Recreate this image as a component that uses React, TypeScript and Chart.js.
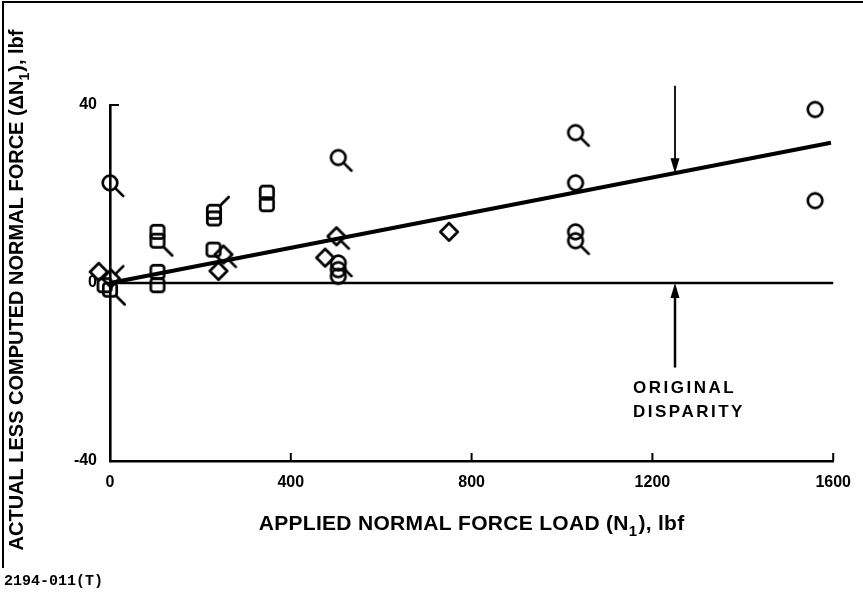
import React, { useEffect, useRef } from "react";
import { Chart, registerables } from "chart.js";

Chart.register(...registerables);

// ---- axes ----
const xTicks = [0, 400, 800, 1200, 1600];
const yTicks = [-40, 0, 40];
const xTitle = [{ t: "APPLIED NORMAL FORCE LOAD (N" }, { t: "1", sub: true }, { t: "), lbf" }];
const yTitle = [{ t: "ACTUAL LESS COMPUTED NORMAL FORCE (\u0394N" }, { t: "1", sub: true }, { t: "), lbf" }];
const noteLines = ["ORIGINAL", "DISPARITY"];
const figureId = "2194-011(T)";

// ---- data (applied load lbf, delta normal force lbf) ----
const circles = [
  { x: 1030, y: 22.5 }, { x: 1030, y: 11.5 }, { x: 1560, y: 39 }, { x: 1560, y: 18.5 },
  { x: 505, y: 3 }, { x: 505, y: 1.5 },
];
const circlesFlagDown = [
  { x: 0, y: 22.5 }, { x: 505, y: 28.2 }, { x: 1030, y: 33.8 }, { x: 1030, y: 9.5 }, { x: 505, y: 4.5 },
];
const squares = [
  { x: 105, y: 11.5 }, { x: 105, y: 2.5 }, { x: 105, y: -0.5 }, { x: 230, y: 14.5 },
  { x: 229, y: 7.5 }, { x: 347, y: 20.3 }, { x: 347, y: 17.7 }, { x: -12, y: -0.5 },
];
const squaresFlagDown = [{ x: 105, y: 9.5 }, { x: 0, y: -1.5 }];
const squaresFlagUp = [{ x: 230, y: 16 }];
const diamonds = [{ x: -25, y: 2.5 }, { x: 240, y: 2.7 }, { x: 476, y: 5.7 }, { x: 750, y: 11.5 }];
const diamondsFlagDown = [{ x: 251, y: 6.4 }, { x: 501, y: 10.5 }];
const diamondsFlagUp = [{ x: 2, y: 1 }];
const fitLine = [{ x: 0, y: 0 }, { x: 1595, y: 31.5 }];
const originalLine = [{ x: 0, y: 0 }, { x: 1600, y: 0 }];

// annotation arrows (data coords)
const arrowX = 1250;
const arrowTopStart = 44.3;
const arrowBottomStart = -19;
const arrowBottomEnd = 0;

const FONT = "'Liberation Sans', Arial, Helvetica, sans-serif";

type Shape = "circle" | "square" | "diamond";
type Flag = "none" | "down" | "up";

function makeSymbol(shape: Shape, flag: Flag): HTMLCanvasElement {
  const S = 44;
  const c = S / 2;
  const cv = document.createElement("canvas");
  cv.width = S;
  cv.height = S;
  const g = cv.getContext("2d")!;
  g.strokeStyle = "#000";
  g.lineWidth = 2.7;
  g.lineJoin = "round";
  g.lineCap = "round";
  g.beginPath();
  let ex = 0;
  let ey = 0;
  if (shape === "circle") {
    const r = 7.3;
    g.arc(c, c, r, 0, Math.PI * 2);
    ex = r * Math.SQRT1_2;
    ey = ex;
  } else if (shape === "square") {
    const h = 6.7;
    (g as any).roundRect(c - h, c - h, 2 * h, 2 * h, 3);
    ex = h;
    ey = h;
  } else {
    const h = 8.7;
    g.moveTo(c, c - h);
    g.lineTo(c + h, c);
    g.lineTo(c, c + h);
    g.lineTo(c - h, c);
    g.closePath();
    ex = h / 2;
    ey = h / 2;
  }
  g.stroke();
  if (flag !== "none") {
    const s = flag === "down" ? 1 : -1;
    g.beginPath();
    g.moveTo(c + ex, c + s * ey);
    g.lineTo(c + ex + 8, c + s * (ey + 8));
    g.stroke();
  }
  return cv;
}

function drawRich(ctx: CanvasRenderingContext2D, parts: { t: string; sub?: boolean }[], size: number, cx: number, baseline: number, spacing: number) {
  const main = `bold ${size}px ${FONT}`;
  const small = `bold ${Math.round(size * 0.7)}px ${FONT}`;
  (ctx as any).letterSpacing = `${spacing}px`;
  let total = 0;
  const widths = parts.map((p) => {
    ctx.font = p.sub ? small : main;
    const w = ctx.measureText(p.t).width + (p.sub ? 1 : 0);
    total += w;
    return w;
  });
  let x = cx - total / 2;
  ctx.textAlign = "left";
  ctx.textBaseline = "alphabetic";
  parts.forEach((p, i) => {
    ctx.font = p.sub ? small : main;
    ctx.fillText(p.t, x, baseline + (p.sub ? size * 0.3 : 0));
    x += widths[i];
  });
  (ctx as any).letterSpacing = "0px";
}

const decorPlugin = {
  id: "decor",
  afterDraw(chart: any) {
    const { ctx, chartArea, scales } = chart;
    const xs = scales.x;
    const ys = scales.y;
    ctx.save();
    ctx.strokeStyle = "#000";
    ctx.fillStyle = "#000";
    ctx.lineCap = "butt";
    // inner tick marks
    ctx.lineWidth = 2;
    xTicks.slice(1).forEach((v) => {
      const px = xs.getPixelForValue(v);
      ctx.beginPath();
      ctx.moveTo(px, chartArea.bottom);
      ctx.lineTo(px, chartArea.bottom - 8);
      ctx.stroke();
    });
    yTicks.forEach((v) => {
      const py = ys.getPixelForValue(v);
      ctx.beginPath();
      ctx.moveTo(chartArea.left, py);
      ctx.lineTo(chartArea.left + 9, py);
      ctx.stroke();
    });

    // arrows
    const ax = xs.getPixelForValue(arrowX);
    const a = fitLine[0];
    const b = fitLine[1];
    const fitAt = a.y + ((b.y - a.y) * (arrowX - a.x)) / (b.x - a.x);
    const tipTop = ys.getPixelForValue(fitAt);
    const startTop = ys.getPixelForValue(arrowTopStart);
    ctx.lineWidth = 1.8;
    ctx.beginPath();
    ctx.moveTo(ax, startTop);
    ctx.lineTo(ax, tipTop - 10);
    ctx.stroke();
    ctx.beginPath();
    ctx.moveTo(ax, tipTop);
    ctx.lineTo(ax - 4.5, tipTop - 15);
    ctx.lineTo(ax + 4.5, tipTop - 15);
    ctx.closePath();
    ctx.fill();

    const tipBot = ys.getPixelForValue(arrowBottomEnd);
    const startBot = ys.getPixelForValue(arrowBottomStart);
    ctx.lineWidth = 2.5;
    ctx.beginPath();
    ctx.moveTo(ax, startBot);
    ctx.lineTo(ax, tipBot + 10);
    ctx.stroke();
    ctx.beginPath();
    ctx.moveTo(ax, tipBot);
    ctx.lineTo(ax - 4.5, tipBot + 15);
    ctx.lineTo(ax + 4.5, tipBot + 15);
    ctx.closePath();
    ctx.fill();

    // note text
    ctx.font = `bold 17px ${FONT}`;
    (ctx as any).letterSpacing = "2.5px";
    ctx.textAlign = "left";
    ctx.textBaseline = "alphabetic";
    ctx.fillText(noteLines[0], ax - 42, tipBot + 110);
    ctx.fillText(noteLines[1], ax - 42, tipBot + 134);
    (ctx as any).letterSpacing = "0px";

    // axis titles
    const cx = (chartArea.left + chartArea.right) / 2;
    drawRich(ctx, xTitle, 21, cx, chartArea.bottom + 69, 0.3);
    ctx.save();
    ctx.translate(23, 290);
    ctx.rotate(-Math.PI / 2);
    drawRich(ctx, yTitle, 20, 0, 0, 0);
    ctx.restore();

    // figure id
    ctx.font = `bold 15px 'Liberation Mono', 'DejaVu Sans Mono', monospace`;
    ctx.textAlign = "left";
    ctx.fillText(figureId, 4, 585);
    ctx.restore();
  },
};

export default function App() {
  const ref = useRef<HTMLCanvasElement | null>(null);

  useEffect(() => {
    const canvas = ref.current;
    if (!canvas) return;
    const pt = (data: any[], shape: Shape, flag: Flag) => ({
      type: "scatter" as const,
      data,
      pointStyle: makeSymbol(shape, flag),
      pointRadius: 14,
      pointHoverRadius: 14,
      borderWidth: 0,
      clip: false as any,
    });
    const line = (data: any[], width: number) => ({
      type: "line" as const,
      data,
      borderColor: "#000",
      borderWidth: width,
      pointRadius: 0,
      fill: false,
      tension: 0,
      clip: false as any,
      borderCapStyle: "butt" as const,
    });
    const chart = new Chart(canvas, {
      type: "scatter",
      data: {
        datasets: [
          line(originalLine, 2.6) as any,
          line(fitLine, 4) as any,
          pt(circles, "circle", "none"),
          pt(circlesFlagDown, "circle", "down"),
          pt(squares, "square", "none"),
          pt(squaresFlagDown, "square", "down"),
          pt(squaresFlagUp, "square", "up"),
          pt(diamonds, "diamond", "none"),
          pt(diamondsFlagDown, "diamond", "down"),
          pt(diamondsFlagUp, "diamond", "up"),
        ],
      },
      options: {
        responsive: false,
        animation: false,
        devicePixelRatio: 1,
        events: [],
        layout: { padding: { top: 105, right: 29, bottom: 0, left: 0 } },
        plugins: { legend: { display: false }, tooltip: { enabled: false } },
        scales: {
          x: {
            type: "linear",
            min: 0,
            max: 1600,
            afterBuildTicks: (s: any) => {
              s.ticks = xTicks.map((v) => ({ value: v }));
            },
            afterFit: (s: any) => {
              s.height = 132;
            },
            grid: { display: false, drawTicks: false },
            border: { display: true, color: "#000", width: 2.6 },
            ticks: {
              color: "#000",
              font: { family: FONT, size: 16, weight: "bold" },
              padding: 12,
              maxRotation: 0,
              autoSkip: false,
              callback: (v: any) => String(v),
            },
          },
          y: {
            type: "linear",
            min: -40,
            max: 40,
            afterBuildTicks: (s: any) => {
              s.ticks = yTicks.map((v) => ({ value: v }));
            },
            afterFit: (s: any) => {
              s.width = 110;
            },
            grid: { display: false, drawTicks: false },
            border: { display: true, color: "#000", width: 2.6 },
            ticks: {
              color: "#000",
              font: { family: FONT, size: 16, weight: "bold" },
              padding: 13,
              autoSkip: false,
              callback: (v: any) => String(v),
            },
          },
        },
      },
      plugins: [decorPlugin],
    });
    return () => chart.destroy();
  }, []);

  return (
    <div style={{ position: "absolute", left: 0, top: 0, width: 863, height: 593, background: "#fff" }}>
      <canvas ref={ref} width={863} height={593} style={{ display: "block" }} />
      <div style={{ position: "absolute", left: 2, top: 1, width: 861, height: 2, background: "#000" }} />
      <div style={{ position: "absolute", left: 2, top: 1, width: 2, height: 567, background: "#000" }} />
    </div>
  );
}
